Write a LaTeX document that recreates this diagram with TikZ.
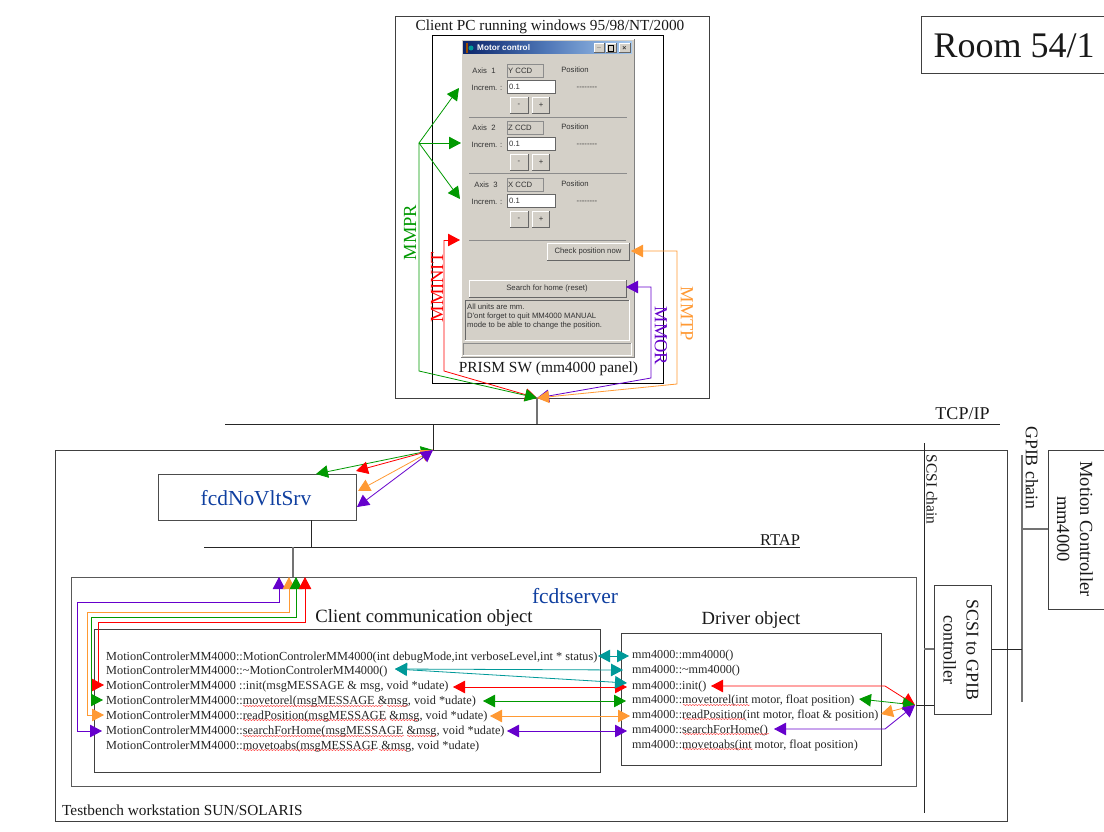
\documentclass[tikz,border=0pt]{standalone}
\usepackage{fontspec}
\setmainfont{Liberation Serif}
\newfontfamily\uifont{Liberation Sans}
\usetikzlibrary{arrows.meta,decorations.pathmorphing}
\definecolor{cgreen}{HTML}{009900}
\definecolor{cred}{HTML}{FF0000}
\definecolor{corange}{HTML}{FF9933}
\definecolor{cpurple}{HTML}{6600CC}
\definecolor{cteal}{HTML}{009999}
\definecolor{cblue}{HTML}{0F3FA0}
\definecolor{winbg}{HTML}{D4D0C8}
\definecolor{tbleft}{HTML}{0A246A}
\definecolor{tbmid}{HTML}{5078B8}
\definecolor{tbright}{HTML}{A6CAF0}
\tikzset{
  x=1pt,y=-1pt,
  fs/.style={font=\fontsize{#1}{23}\selectfont},
  blk/.style={draw=black!85,line width=1pt},
  gry/.style={draw=black!55,line width=1.2pt},
  frame/.style={draw=black!75,line width=1pt,fill=none,inner sep=0pt,anchor=north west},
  lab/.style={inner sep=0pt,text=black!90},
  meth/.style={inner sep=0pt,anchor=west,fs=12.3,text=black!85,yshift=-1.5pt},
  dmeth/.style={meth,fs=12.15},
  arr/.style={line width=.8pt,-{Triangle[length=12pt,width=12.5pt]}},
  darr/.style={line width=.8pt,{Triangle[length=12pt,width=12.5pt]}-{Triangle[length=12pt,width=12.5pt]}},
  squig/.style={draw=red!80,line width=.4pt,decorate,decoration={snake,amplitude=.6pt,segment length=3pt}},
  ui/.style={inner sep=0pt,font=\uifont\fontsize{7.7}{9.2}\selectfont,text=black!80},
  field/.style={fill=white,draw=black!60,line width=.6pt},
  ro/.style={draw=black!45,line width=.7pt},
}
\newcommand{\btnrect}[4]{%
  \fill[winbg] (#1,#2) rectangle (#3,#4);
  \draw[white,line width=.7pt] (#1,#4) -- (#1,#2) -- (#3,#2);
  \draw[black!60,line width=1pt] (#1,#4) -- (#3,#4) -- (#3,#2);
}
\newcommand{\axisgroup}[4]{% number, label, y-offset, label x
  \begin{scope}[shift={(0,#3)}]
    \node[ui] (axis#1) at (#4,71) {Axis\ \ #1};
    \draw[ro,fill=winbg] (507,64) rectangle (543,77);
    \node[ui,anchor=west] (ccd#1) at (508,70.5) {#2};
    \node[ui] (pos#1) at (575,70) {Position};
    \node[ui] (inc#1) at (487,88) {Increm. :};
    \draw[field] (507,80) rectangle (555,93);
    \node[ui,anchor=west] (val#1) at (509,87) {0.1};
    \node[ui] (dash#1) at (587,88) {{-}{-}{-}{-}{-}{-}{-}{-}};
    \btnrect{510}{97}{528}{114}
    \btnrect{532}{97}{549}{114}
    \node[ui] (minus#1) at (519,105) {-};
    \node[ui] (plus#1) at (541,105) {+};
  \end{scope}
}
\begin{document}
\begin{tikzpicture}
\clip (0,0) rectangle (1104,832);
\fill[white] (0,0) rectangle (1104,832);

% ---- boxes
\node[frame,minimum width=183,minimum height=57] (room) at (921,16) {};
\node[fs=36,lab] (roomtxt) at (1014,46) {Room 54/1};
\node[frame,minimum width=314,minimum height=382] (clientpc) at (395,16) {};
\node[frame,minimum width=231,minimum height=348,draw=black] (prism) at (432,35) {};
\node[fs=15.3,lab] (clienttxt) at (550,26.5) {Client PC running windows 95/98/NT/2000};
\node[fs=15.4,lab] (prismtxt) at (548.5,369) {PRISM SW (mm4000 panel)};

% ---- panel
\fill[winbg] (461,39) rectangle (634,357);
\draw[black!50,line width=1pt] (461,357) -- (634,357) -- (634,39);
\draw[white,line width=.8pt] (461,357) -- (461,39) -- (634,39);
\shade[left color=tbleft,right color=tbright,middle color=tbmid] (463,42) rectangle (632,54);
\node[inner sep=0pt,anchor=west,text=white,font=\uifont\bfseries\fontsize{8.2}{9}\selectfont] (title) at (477,48) {Motor control};
\fill[cteal] (471,48) circle (2.5);
\fill[orange!60!black] (466,43) rectangle (468,53);
\btnrect{594}{43}{604}{53}
\btnrect{606}{43}{616}{53}
\btnrect{619}{43}{630}{53}
\node[ui,font=\uifont\bfseries\fontsize{7}{8}\selectfont] (wmin) at (599,48) {\_};
\draw[black,line width=.7pt] (608.5,45) rectangle (613.5,51);
\node[ui,font=\uifont\bfseries\fontsize{7}{8}\selectfont] (wclose) at (624.5,48) {×};

\axisgroup{1}{Y CCD}{0}{484}
\draw[black!45,line width=.6pt] (469,117) -- (627,117);
\axisgroup{2}{Z CCD}{57}{484}
\draw[black!45,line width=.6pt] (469,173) -- (627,173);
\axisgroup{3}{X CCD}{114}{486}
\draw[black!45,line width=.6pt] (469,240) -- (626,240);
\btnrect{547}{243}{629}{260}
\node[ui] (checkbtn) at (588,251.7) {Check position now};
\btnrect{469}{280}{626}{297}
\node[ui] (searchbtn) at (547,288.7) {Search for home (reset)};
\draw[black!60,line width=.7pt] (465,340) -- (465,300) -- (629,300);
\draw[white,line width=.7pt] (465,340) -- (629,340) -- (629,300);
\node[ui,anchor=north west,align=left] (notes) at (467,303.5) {All units are mm.\\D'ont forget to quit MM4000 MANUAL\\mode to be able to change the position.};
\draw[black!45,line width=.7pt] (463,355) -- (463,343) -- (631,343);
\draw[white,line width=.7pt] (463,355) -- (631,355) -- (631,343);

% ---- network
\coordinate (tcpL) at (225,424);
\coordinate (tcpR) at (1000,424);
\coordinate (tcpA) at (537,424);
\coordinate (tcpB) at (433,424);
\coordinate (hubPC) at (537,398);
\coordinate (hubSrv) at (433,450);
\draw[blk] (tcpL) -- (tcpR);
\draw[gry] (hubPC) -- (tcpA);
\draw[blk] (tcpB) -- (hubSrv);
\node[fs=18,lab] (tcptxt) at (962.5,414) {TCP/IP};

\node[frame,minimum width=952,minimum height=371] (bench) at (55,450) {};
\node[fs=15.3,lab,anchor=west] (benchtxt) at (62,810) {Testbench workstation SUN/SOLARIS};

\node[frame,minimum width=198,minimum height=46,draw=black!70] (srv) at (158,474) {};
\node[fs=21.4,lab,text=cblue] (srvtxt) at (256,498) {fcdNoVltSrv};

\coordinate (rtapL) at (204,547);
\coordinate (rtapR) at (800,547);
\coordinate (rtapA) at (311,547);
\coordinate (rtapB) at (293,547);
\coordinate (srvB) at (311,520);
\coordinate (dsTop) at (293,577);
\draw[blk] (rtapL) -- (rtapR);
\draw[blk] (srvB) -- (rtapA);
\draw[gry,line width=1.4pt] (rtapB) -- (dsTop);
\node[fs=16.5,lab] (rtaptxt) at (780,540) {RTAP};

\node[frame,minimum width=845,minimum height=209,draw=black!65] (dtserver) at (71,577) {};
\node[fs=21.5,lab,text=cblue] (dttxt) at (575,596) {fcdtserver};
\node[frame,minimum width=506,minimum height=143] (client) at (94,629) {};
\node[fs=18.7,lab] (clobj) at (424,618) {Client communication object};
\node[frame,minimum width=260,minimum height=132] (driver) at (621,633) {};
\node[fs=18.6,lab] (drobj) at (751,620) {Driver object};

% ---- SCSI / GPIB
\coordinate (scsiT) at (924,443);
\coordinate (scsiB) at (924,813);
\coordinate (scsiJ) at (924,649);
\coordinate (dsR) at (916,705);
\draw[blk] (scsiT) -- (scsiB);
\node[frame,minimum width=57,minimum height=129] (scsibox) at (934,585) {};
\draw[gry] (scsiJ) -- (scsibox.west |- scsiJ);
\draw[blk] (dsR) -- (934,705);
\node[fs=15.4,lab,rotate=-90] (scsitxt) at (932,489.5) {SCSI chain};
\node[fs=17.9,lab,rotate=-90,align=center] (scsiboxtxt) at (961,650) {SCSI to GPIB\\controller};
\coordinate (gpibT) at (1022,455);
\coordinate (gpibB) at (1022,702);
\coordinate (gpibJ) at (1022,649);
\coordinate (gpibK) at (1022,529);
\draw[gry] (gpibT) -- (gpibB);
\draw[blk] (scsibox.east |- gpibJ) -- (gpibJ);
\node[frame,minimum width=70,minimum height=159] (motor) at (1048,450) {};
\draw[gry] (gpibK) -- (motor.west |- gpibK);
\node[fs=17.7,lab,rotate=-90] (gpibtxt) at (1032,468) {GPIB chain};
\node[fs=18.5,lab,rotate=-90,align=center] (motortxt) at (1075,529) {Motion Controller\\mm4000};

% ---- methods
\node[meth] (c1) at (106,656) {MotionControlerMM4000::MotionControlerMM4000(int debugMode,int verboseLevel,int * status)};
\node[meth] (c2) at (106,670) {MotionControlerMM4000::\textasciitilde MotionControlerMM4000()};
\node[meth] (c3) at (106,685) {MotionControlerMM4000 ::init(msgMESSAGE \& msg, void *udate)};
\node[meth] (c4) at (106,700) {MotionControlerMM4000::movetorel(msgMESSAGE \&msg, void *udate)};
\node[meth] (c5) at (106,715) {MotionControlerMM4000::readPosition(msgMESSAGE \&msg, void *udate)};
\node[meth] (c6) at (106,730) {MotionControlerMM4000::searchForHome(msgMESSAGE \&msg, void *udate)};
\node[meth] (c7) at (106,745) {MotionControlerMM4000::movetoabs(msgMESSAGE \&msg, void *udate)};
\node[dmeth] (d1) at (632,654) {mm4000::mm4000()};
\node[dmeth] (d2) at (632,669) {mm4000::\textasciitilde mm4000()};
\node[dmeth] (d3) at (632,685) {mm4000::init()};
\node[dmeth] (d4) at (632,699) {mm4000::movetorel(int motor, float position)};
\node[dmeth] (d5) at (632,714) {mm4000::readPosition(int motor, float \& position)};
\node[dmeth] (d6) at (632,729) {mm4000::searchForHome()};
\node[dmeth] (d7) at (632,744) {mm4000::movetoabs(int motor, float position)};
% spell-check squiggles
\foreach \a/\b/\yy in {243/383/706, 243/387/720, 243/404/736, 243/375/750,
                       387/408/706, 390/418/720, 407/437/736, 379/407/750,
                       683/750/705, 683/745/719, 683/769/734, 683/753/749}
  \draw[squig] (\a,\yy) -- (\b,\yy);

% ---- Client PC arrows
\coordinate (prJ) at (419,143);
\coordinate (prK) at (419,371);
\coordinate (pr1) at (459,88);
\coordinate (pr2) at (461,143);
\coordinate (pr3) at (460,199);
\coordinate (ini1) at (460,240);
\coordinate (iniA) at (444,240);
\coordinate (iniB) at (444,371);
\coordinate (orT) at (626,287);
\coordinate (orA) at (651,287);
\coordinate (orB) at (651,378);
\coordinate (tpT) at (631,251);
\coordinate (tpA) at (677,251);
\coordinate (tpB) at (677,384);
\draw[arr,cgreen] (prJ) -- (pr1);
\draw[arr,cgreen] (prJ) -- (pr2);
\draw[arr,cgreen] (prJ) -- (pr3);
\draw[arr,cred] (iniA) -- (ini1);
\draw[arr,cred] (iniA) -- (iniB) -- (hubPC);
\draw[arr,cgreen] (prJ) -- (prK) -- (hubPC);
\draw[darr,cpurple] (orT) -- (orA) -- (orB) -- (hubPC);
\draw[darr,corange] (tpT) -- (tpA) -- (tpB) -- (hubPC);
\node[fs=18.5,lab,text=cgreen,rotate=90] (mmpr) at (410,232.5) {MMPR};
\node[fs=18.5,lab,text=cred,rotate=90] (mminit) at (437,287.5) {MMINIT};
\node[fs=18.5,lab,text=cpurple,rotate=-90] (mmor) at (661,336) {MMOR};
\node[fs=18.5,lab,text=corange,rotate=-90] (mmtp) at (687,314) {MMTP};

% ---- fcdNoVltSrv arrows
\coordinate (sg) at (316,474);
\coordinate (sr) at (356,471);
\coordinate (so) at (358,491);
\coordinate (sp) at (357,507);
\draw[darr,cgreen] (sg) -- (hubSrv);
\draw[arr,cred] (hubSrv) -- (sr);
\draw[darr,corange] (so) -- (hubSrv);
\draw[darr,cpurple] (sp) -- (hubSrv);

% ---- fcdtserver arrows
\coordinate (tp) at (279,577);
\coordinate (to) at (289,577);
\coordinate (tg) at (296,577);
\coordinate (tr) at (305,577);
\draw[darr,cpurple] (tp) |- (77,602) |- (102,731);
\draw[darr,corange] (to) |- (87,612) |- (104,715);
\draw[darr,cgreen] (tg) |- (91,617) |- (103,700);
\draw[darr,cred] (tr) |- (98,622) |- (104,685);

% ---- client - driver arrows
\coordinate (t1) at (598,656);
\coordinate (t1b) at (629,656);
\draw[darr,cteal] (t1) -- (t1b);
\draw[darr,cred] (453,687) -- (627,687);
\draw[darr,cteal] (395,669) -- (623,670);
\draw[darr,cteal] (395,669) -- (627,683);
\draw[darr,cgreen] (483,701) -- (626,701);
\draw[darr,corange] (490,716) -- (630,716);
\draw[darr,cpurple] (507,731) -- (627,731);

% ---- driver - SCSI arrows
\coordinate (hubD) at (915,705);
\draw[darr,cred] (711,686) -- (885,686) -- (hubD);
\draw[darr,cgreen] (859,699) -- (hubD);
\draw[arr,corange] (hubD) -- (881,714);
\draw[darr,cpurple] (774,729) -- (885,729) -- (hubD);
\end{tikzpicture}
\end{document}
